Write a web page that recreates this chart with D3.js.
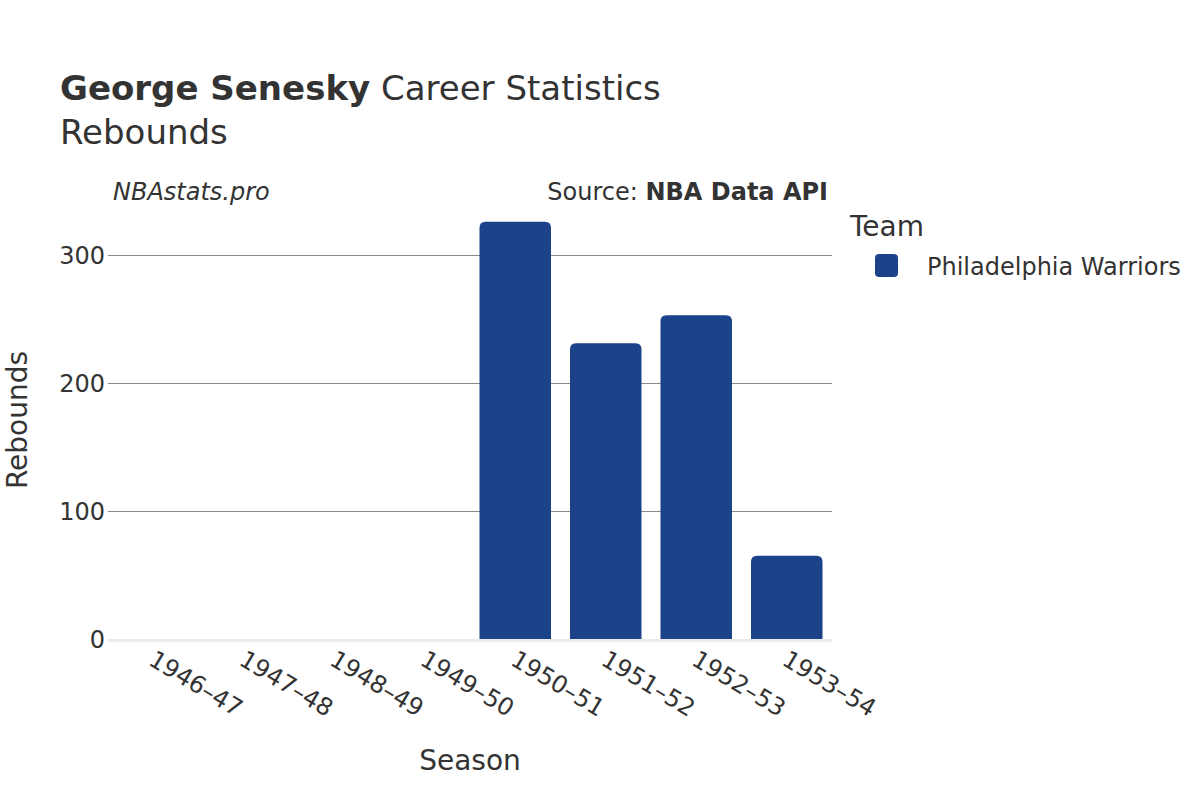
<!DOCTYPE html>
<html><head><meta charset="utf-8">
<script src="https://cdn.jsdelivr.net/npm/d3@7"></script>
<style>body{margin:0;background:#fff}svg{display:block}text{font-family:"DejaVu Sans",sans-serif;fill:#333}</style>
</head><body>
<svg id="c" width="1200" height="800"></svg>
<script>
const seasons = ["1946–47","1947–48","1948–49","1949–50","1950–51","1951–52","1952–53","1953–54"];
const rebounds = [null,null,null,null,326,231,253,65];
const yTicks = [0,100,200,300];
const team = "Philadelphia Warriors";
const barColor = "#1c4289";

const svg = d3.select("#c");
const m = {l:108, r:832, t:190, b:639};
const x = d3.scaleBand().domain(seasons).range([m.l, m.r]).paddingInner(0.21).paddingOuter(0.105);
const y = d3.scaleLinear().domain([0,300]).range([m.b, 255]);

// gridlines
svg.append("g").selectAll("line").data(yTicks.filter(d=>d>0)).join("line")
  .attr("x1",m.l).attr("x2",m.r).attr("y1",d=>y(d)+0.5).attr("y2",d=>y(d)+0.5)
  .attr("stroke","#8a8a8a").attr("stroke-width",1);

// bars
const data = seasons.map((s,i)=>({s,v:rebounds[i]})).filter(d=>d.v!=null);
svg.append("g").selectAll("path").data(data).join("path")
  .attr("fill",barColor)
  .attr("d",d=>{
    const x0=x(d.s), w=x.bandwidth(), y0=y(d.v), y1=y(0), r=Math.min(6,(y1-y0)/2);
    return `M${x0},${y1}V${y0+r}Q${x0},${y0} ${x0+r},${y0}H${x0+w-r}Q${x0+w},${y0} ${x0+w},${y0+r}V${y1}Z`;
  });

// zero line
svg.append("line").attr("x1",m.l).attr("x2",m.r).attr("y1",y(0)+1.5).attr("y2",y(0)+1.5)
  .attr("stroke","#ebebeb").attr("stroke-width",3);

// y axis
const ya = svg.append("g").attr("transform",`translate(${m.l},0)`)
  .call(d3.axisLeft(y).tickValues(yTicks).tickSize(0).tickPadding(3));
ya.select(".domain").remove();
ya.selectAll("text").attr("font-size",24).attr("fill","#333").style("font-family","DejaVu Sans").attr("dy","0.35em");

// x axis
const xa = svg.append("g").attr("transform",`translate(0,${m.b})`)
  .call(d3.axisBottom(x).tickSize(0).tickPadding(0));
xa.select(".domain").remove();
xa.selectAll("text").attr("font-size",24).attr("fill","#333").style("font-family","DejaVu Sans")
  .attr("text-anchor","start").attr("dy",null)
  .attr("transform","translate(-6,25) rotate(31)");

// titles
const t = svg.append("text").attr("x",60).attr("y",100).attr("font-size",34);
t.append("tspan").attr("font-weight","bold").text("George Senesky");
t.append("tspan").text(" Career Statistics");
svg.append("text").attr("x",60).attr("y",144).attr("font-size",34).text("Rebounds");

svg.append("text").attr("x",113).attr("y",200).attr("font-size",24).attr("font-style","italic").text("NBAstats.pro");
const src = svg.append("text").attr("x",828).attr("y",200).attr("font-size",24).attr("text-anchor","end");
src.append("tspan").text("Source: ");
src.append("tspan").attr("font-weight","bold").text("NBA Data API");

svg.append("text").attr("transform","translate(17,420) rotate(-90)").attr("text-anchor","middle").attr("dy","0.35em").attr("font-size",28).text("Rebounds");
svg.append("text").attr("x",470).attr("y",770).attr("text-anchor","middle").attr("font-size",28).text("Season");

// legend
svg.append("text").attr("x",850).attr("y",236).attr("font-size",28).text("Team");
svg.append("rect").attr("x",875).attr("y",254).attr("width",23).attr("height",23).attr("rx",4).attr("fill",barColor);
svg.append("text").attr("x",927).attr("y",275).attr("font-size",24).text(team);
</script>
</body></html>
